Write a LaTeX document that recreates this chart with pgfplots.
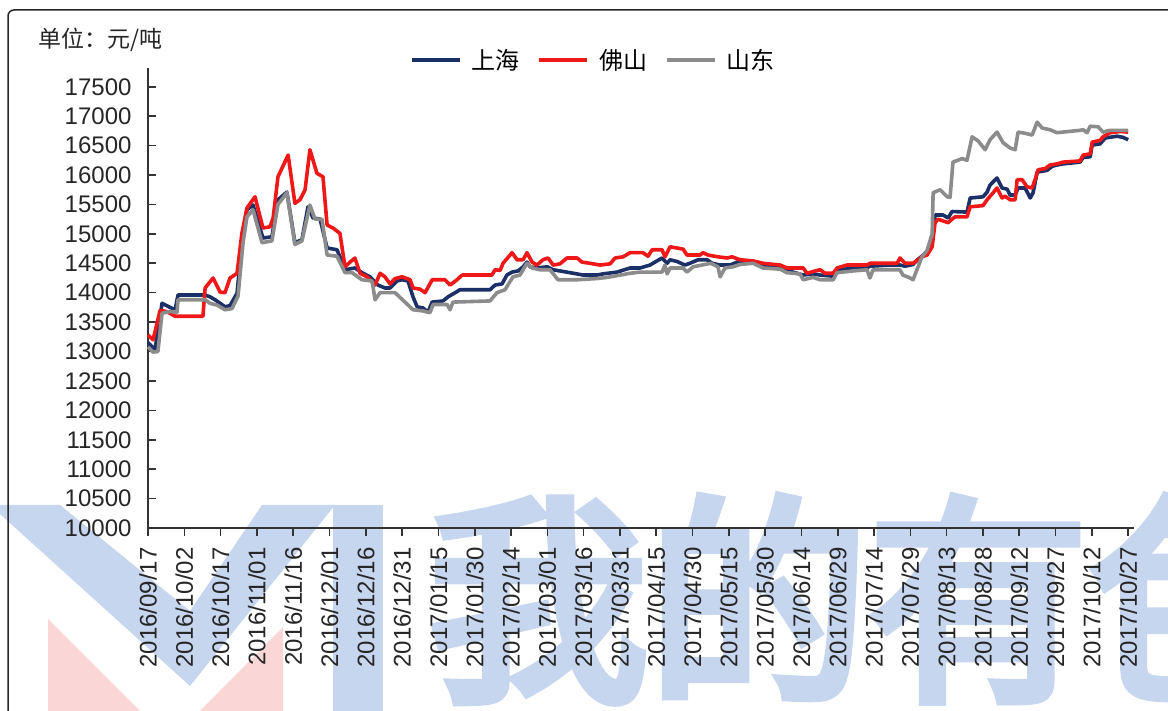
\documentclass[border=0pt]{standalone}
\usepackage{pgfplots}
\pgfplotsset{compat=1.18}
\usepackage{fontspec}
\setmainfont{Liberation Sans}
\newfontfamily\cjk{Noto Sans CJK SC}
\newfontfamily\cjkwm[FakeBold=5]{Noto Sans CJK SC}
\definecolor{shc}{RGB}{28,48,104}
\definecolor{fsc}{RGB}{238,24,24}
\definecolor{sdc}{RGB}{140,140,140}
\definecolor{wmb}{RGB}{198,214,238}
\definecolor{wmr}{RGB}{250,214,214}
\begin{document}
\begin{tikzpicture}[x=1pt,y=1pt]
% watermark
\fill[wmr] (48,92) -- (48,0) -- (140,0) -- cycle;
\fill[wmr] (200,0) -- (283,84) -- (283,0) -- cycle;
\fill[wmb] (-10,206) -- (60,206) -- (190,100) -- (262,206) -- (335,206) -- (190,25) -- cycle;
\fill[wmb] (333,0) rectangle (383,206);
\node[anchor=base west, inner sep=0pt, text=wmb, font={\cjkwm\fontsize{220}{220}\selectfont}] at (428,28) {我的有色};
% frame
\draw[line width=1.5pt, rounded corners=6pt, black!85] (8,701) -- (1190,701) -- (1190,-20) -- (8,-20) -- cycle;
\begin{axis}[
  at={(148pt,183pt)}, anchor=south west,
  scale only axis, width=986pt, height=460pt,
  xmin=0, xmax=407.4, ymin=10000, ymax=17820,
  axis x line=bottom, axis y line=left,
  x axis line style={-, line width=1.6pt, black!80},
  y axis line style={-, line width=1.6pt, black!80},
  xtick={0,15,...,405},
  xticklabels={2016/09/17,2016/10/02,2016/10/17,2016/11/01,2016/11/16,2016/12/01,2016/12/16,2016/12/31,2017/01/15,2017/01/30,2017/02/14,2017/03/01,2017/03/16,2017/03/31,2017/04/15,2017/04/30,2017/05/15,2017/05/30,2017/06/14,2017/06/29,2017/07/14,2017/07/29,2017/08/13,2017/08/28,2017/09/12,2017/09/27,2017/10/12,2017/10/27},
  ytick={10000,10500,...,17500},
  scaled y ticks=false,
  yticklabel={\pgfmathprintnumber[fixed,precision=0,1000 sep={}]{\tick}},
  xtick align=outside, ytick align=inside,
  major tick length=8pt,
  tick style={line width=1.6pt, black!80},
  /pgf/number format/assume math mode=true,
  tick label style={font=\fontsize{24}{28}\selectfont, text=black!85},
  yticklabel shift=13pt,
  xticklabel shift=8pt,
  xticklabel style={rotate=90, anchor=east},
  legend style={draw=none, fill=none, at={(0.4508,1)}, anchor=center, yshift=8pt,
    font={\cjk\fontsize{24}{28}\selectfont}, nodes={inner sep=0pt},
    /tikz/every odd column/.append style={column sep=10pt},
    /tikz/every even column/.append style={column sep=18pt}},
  legend columns=3,
  legend image code/.code={\draw[#1] (0pt,0pt) -- (48pt,0pt);},
  clip=false,
]
\addplot[shc, line width=3.6pt, line join=round] coordinates {
(0,13150)(2.9,13030)(5.8,13820)(9.1,13750)(11.2,13710)(12.4,13960)(23.6,13960)(25.6,13930)(27.7,13880)(29.8,13820)(31.8,13760)(33.9,13780)(36.8,13990)(38.8,14860)(40.9,15410)(43.4,15490)(47.5,14930)(51.2,14950)(53.7,15580)(57.4,15710)(60.7,14850)(63.6,14900)(66.1,15460)(68.2,15270)(71.1,15250)(74.0,14760)(78.1,14730)(81.4,14390)(85.5,14420)(88.4,14340)(91.7,14270)(95,14130)(97.9,14080)(100,14080)(102.9,14200)(105,14220)(107.4,14200)(109.5,13930)(111.2,13760)(113.6,13740)(115.7,13670)(117.4,13840)(121.9,13860)(124,13930)(126.9,14000)(128.9,14050)(141.3,14050)(143.4,14130)(146.3,14150)(148.3,14300)(150.4,14350)(152.9,14370)(155,14440)(156.6,14520)(157.9,14440)(160.7,14420)(164.9,14440)(167.4,14390)(170.2,14370)(174.4,14340)(179.8,14300)(185.5,14300)(188,14320)(193.8,14350)(199.2,14420)(203.3,14420)(207.4,14470)(212.4,14590)(214.5,14500)(215.7,14560)(218.6,14530)(221.9,14470)(223.9,14500)(227.3,14560)(231,14560)(233.1,14500)(236.4,14470)(240.5,14470)(244.6,14540)(250,14520)(254.1,14460)(261.2,14440)(264,14380)(270.7,14300)(274.8,14320)(277.7,14300)(283.1,14280)(284.7,14380)(291.3,14420)(297.1,14430)(298.3,14450)(306.6,14470)(310.7,14470)(312.8,14450)(316.1,14480)(317.8,14556)(319.8,14620)(321.9,14700)(324,14850)(325.2,15320)(328.5,15320)(330.6,15270)(332.2,15380)(338.4,15370)(339.7,15610)(345,15630)(346.7,15710)(347.9,15830)(350.8,15950)(352.9,15780)(355,15760)(356.2,15660)(358.3,15660)(359.5,15780)(362.4,15780)(364.5,15610)(365.7,15700)(367.4,16050)(371.5,16080)(373.6,16150)(375.6,16170)(378.1,16190)(385.1,16220)(386.4,16300)(389.3,16310)(390.1,16510)(393.4,16530)(395.5,16630)(400.4,16660)(402.9,16640)(405,16600)
};
\addlegendentry{上海}
\addplot[fsc, line width=3.6pt, line join=round] coordinates {
(0,13280)(2.1,13200)(5.0,13700)(7.7,13680)(11.2,13600)(22.7,13600)(23.6,14080)(26.9,14250)(29.8,14010)(31.8,14000)(33.9,14250)(36.8,14330)(38.8,15010)(40.9,15440)(44.2,15630)(47.5,15100)(50.4,15120)(51.7,15270)(53.7,15970)(57.9,16340)(60.7,15520)(62.8,15580)(64.9,15750)(66.9,16430)(69.8,16030)(72.3,15970)(74.0,15150)(76.4,15100)(79.3,15010)(81.4,14440)(83.5,14520)(85.5,14590)(87.6,14330)(90.5,14270)(93.8,14130)(95.9,14330)(97.9,14270)(100,14150)(102.1,14240)(105,14270)(108.3,14220)(109.5,14080)(112.4,14060)(114.5,14000)(117.4,14220)(122.7,14220)(124.8,14130)(127.7,14220)(129.8,14300)(142.1,14300)(143.4,14390)(145.5,14380)(146.7,14500)(150.4,14680)(152.5,14560)(155,14560)(156.6,14680)(158.7,14520)(160.7,14470)(163.2,14560)(165.3,14590)(167.4,14470)(170.2,14490)(173.1,14590)(177.3,14590)(179.3,14520)(182.6,14500)(186.8,14470)(190.9,14490)(193,14590)(196.3,14610)(199.2,14680)(204.5,14680)(206.6,14620)(208.3,14730)(212.4,14730)(213.6,14610)(215.7,14780)(218.6,14760)(221.1,14740)(222.7,14640)(228.1,14640)(229.3,14680)(231.4,14640)(235.5,14610)(239.3,14590)(241.3,14610)(244.6,14560)(250,14540)(254.1,14500)(261.2,14470)(264,14420)(270.7,14420)(272.3,14330)(274.8,14360)(277.7,14390)(279.8,14330)(283.1,14330)(284.7,14420)(288.8,14470)(297.1,14470)(298.3,14500)(309.5,14500)(310.7,14590)(312.8,14500)(316.1,14500)(317.8,14550)(319.8,14610)(321.9,14640)(324,14780)(325.2,15190)(326.4,15250)(330.6,15190)(332.2,15250)(333.5,15290)(338.4,15290)(339.7,15460)(345,15480)(346.7,15580)(349.2,15700)(350.8,15780)(352.9,15610)(354.1,15640)(356.2,15580)(358.3,15580)(359.1,15920)(361.2,15920)(363.2,15800)(365.3,15780)(366.5,15920)(367.8,16090)(370.7,16110)(372.7,16170)(375.6,16190)(378.1,16220)(385.1,16240)(386.4,16340)(389.3,16360)(390.1,16560)(393.4,16590)(394.6,16650)(397.5,16720)(401.7,16740)(405,16730)
};
\addlegendentry{佛山}
\addplot[sdc, line width=3.6pt, line join=round] coordinates {
(0,13080)(2.1,12990)(4.1,13000)(5.8,13650)(9.1,13680)(12,13670)(12.4,13880)(23.6,13880)(25.6,13820)(28.5,13790)(31.8,13710)(34.7,13730)(37.2,13940)(39.3,14860)(40.9,15290)(43.4,15410)(47.1,14850)(51.2,14880)(53.7,15500)(57.4,15700)(60.7,14820)(63.6,14880)(66.9,15490)(69,15250)(71.9,15250)(74,14640)(78.1,14620)(81.4,14340)(84.3,14340)(88.4,14220)(92.6,14200)(93.8,13880)(95.9,14000)(102.1,14000)(109.5,13710)(113.6,13690)(116.5,13660)(117.8,13800)(123.6,13800)(124.8,13710)(126,13840)(141.3,13860)(144.2,14000)(147.5,14050)(150.8,14270)(153.7,14300)(156.6,14500)(158.7,14420)(161.9,14390)(166.1,14390)(169.4,14220)(177.3,14220)(185.5,14240)(189.7,14260)(199.2,14330)(203.3,14350)(212.4,14350)(213.6,14470)(214.5,14320)(215.7,14420)(221.1,14420)(222.7,14350)(225.2,14440)(232.6,14500)(235.5,14440)(236.4,14270)(238.4,14420)(241.7,14440)(244.6,14480)(250,14500)(254.1,14420)(261.2,14400)(264,14340)(269.4,14320)(270.7,14220)(274.8,14260)(277.7,14220)(283.1,14220)(284.7,14340)(291.3,14370)(297.1,14390)(298.3,14250)(299.6,14390)(310.7,14390)(311.9,14300)(314.9,14250)(316.1,14220)(317.8,14400)(319.8,14610)(321.9,14720)(324,15000)(324.4,15700)(327.3,15750)(330.2,15630)(331.4,15620)(332.6,16220)(336.4,16280)(338.4,16250)(340.5,16650)(343,16580)(345.9,16430)(347.9,16600)(350.8,16730)(353.3,16550)(356.2,16460)(358.3,16430)(359.5,16730)(362.4,16710)(365.3,16680)(367.4,16900)(369.4,16800)(372.7,16770)(375.6,16720)(385.1,16760)(386.4,16770)(388,16720)(389.3,16830)(392.6,16820)(394.6,16730)(397.5,16760)(405,16760)
};
\addlegendentry{山东}
\end{axis}
\node[anchor=west, inner sep=0pt, font={\cjk\fontsize{23}{26}\selectfont}, text=black!85] at (38,671) {单位：元/吨};
\pgfresetboundingbox
\useasboundingbox (0,0) rectangle (1168,711);
\end{tikzpicture}
\end{document}
